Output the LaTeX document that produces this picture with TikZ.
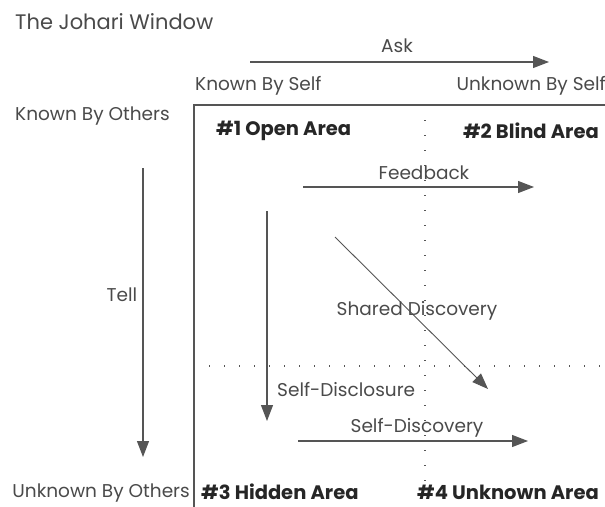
\documentclass[tikz,border=0pt]{standalone}
\usepackage{fontspec}
\setmainfont{Poppins}
\usetikzlibrary{arrows.meta}
\definecolor{txt}{HTML}{4A4A4A}
\definecolor{ln}{HTML}{555555}
\tikzset{
  x=1pt,y=-1pt,
  lbl/.style={inner sep=0pt, text=txt, font=\fontsize{18.5}{20}\selectfont},
  area/.style={inner sep=0pt, text=black!85, font=\fontsize{19.5}{21}\selectfont\bfseries},
  arr/.style={draw=ln, line width=1.1pt, -{Triangle[length=16pt,width=12pt]}},
  dotline/.style={draw=ln, line width=1.4pt, dash pattern=on 1.4pt off 13.6pt},
  frame/.style={draw=ln, line width=1.4pt}
}
\begin{document}
\begin{tikzpicture}
\useasboundingbox[fill=white] (0,0) rectangle (605,506);
% title
\node[lbl, anchor=west, font=\fontsize{21}{23}\selectfont] (title) at (15,22) {The Johari Window};
% top axis
\node[lbl] (ask) at (397,46) {Ask};
\coordinate (askA) at (250,62);
\coordinate (askB) at (549,62);
\draw[arr] (askA) -- (askB);
\node[lbl, anchor=west] (kbs) at (195,86) {Known By Self};
\node[lbl, anchor=east] (ubs) at (606,86) {Unknown By Self};
\node[lbl, anchor=west] (kbo) at (15,116) {Known By Others};
\node[lbl, anchor=east] (ubo) at (190,493) {Unknown By Others};
% frame
\coordinate (fTL) at (194,105);
\coordinate (fTR) at (606,105);
\coordinate (fBL) at (194,507);
\draw[frame] (fTR) -- (fTL) -- (fBL);
% dotted dividers
\coordinate (vT) at (425,105);
\coordinate (vB) at (425,506);
\coordinate (hL) at (194,366);
\coordinate (hR) at (605,366);
\draw[dotline] (vT) -- (vB);
\draw[dotline] (hL) -- (hR);
% area titles
\node[area, anchor=west] (a1) at (216,131) {\#1 Open Area};
\node[area, anchor=east] (a2) at (599,131) {\#2 Blind Area};
\node[area, anchor=west] (a3) at (201,492) {\#3 Hidden Area};
\node[area, anchor=east] (a4) at (599,492) {\#4 Unknown Area};
% tell
\coordinate (tellA) at (143,168);
\coordinate (tellB) at (143,457);
\draw[arr] (tellA) -- (tellB);
\node[lbl] (tell) at (122,295) {Tell};
% feedback
\node[lbl] (fb) at (424,173) {Feedback};
\coordinate (fbA) at (303,187);
\coordinate (fbB) at (534,187);
\draw[arr] (fbA) -- (fbB);
% self-disclosure
\coordinate (sdA) at (267,211);
\coordinate (sdB) at (267,421);
\draw[arr] (sdA) -- (sdB);
\node[lbl, anchor=west] (sd) at (277,390) {Self-Disclosure};
% shared discovery
\coordinate (shA) at (335,237);
\coordinate (shB) at (488,389);
\draw[arr, line width=0.9pt] (shA) -- (shB);
\node[lbl] (sh) at (417,311) {Shared Discovery};
% self-discovery
\node[lbl] (sdis) at (417,428) {Self-Discovery};
\coordinate (sdiA) at (298,441);
\coordinate (sdiB) at (528,441);
\draw[arr] (sdiA) -- (sdiB);
\end{tikzpicture}
\end{document}
